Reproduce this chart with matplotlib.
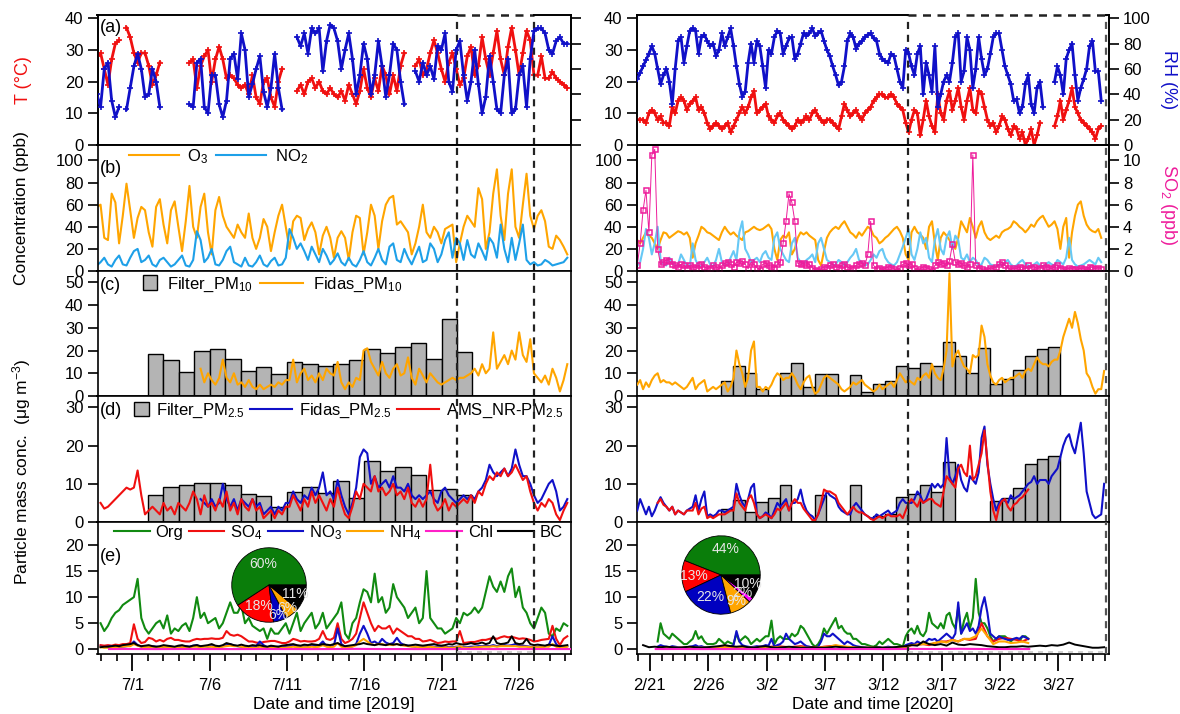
import numpy as np
import pandas as pd
import matplotlib
matplotlib.use("Agg")
import matplotlib.pyplot as plt
import matplotlib.dates as mdates
from matplotlib.patches import Patch, Rectangle
from matplotlib.lines import Line2D
from matplotlib.legend_handler import HandlerPatch

plt.rcParams['font.family'] = ['Liberation Sans', 'DejaVu Sans']
plt.rcParams['mathtext.fontset'] = 'custom'
plt.rcParams['mathtext.rm'] = 'Liberation Sans'
plt.rcParams['mathtext.it'] = 'Liberation Sans:italic'
plt.rcParams['mathtext.bf'] = 'Liberation Sans:bold'
plt.rcParams['font.size'] = 12

nan = np.nan

# ---------------- summer campaign 2019 (sampling every 5 h 45 min) ----------------
summer_start = "2019-06-28 17:00"
summer_step = "345min"

T_2019 = [28, 29, 24, 19, 27, 32, 33, nan, 37, 34, 29, 26, 29, 29, 25, 19, 22, 26,
          nan, nan, nan, nan, nan, nan, nan,
          26, 27, 18, 25, 28, 30, 20, 27, 31, 27, 21, 22, 21, 19, 18, 19, 16, 22, 15, 13,
          20, 21, 15, 12, 20, 24,
          nan, nan, nan,
          17, 19, 16, 20, 21, 18, 20, 17, 16, 18, 16, 15, 17, 14, 19, 16, 13, 17, 24, 18,
          15, 21, 17, 25, 22, 16, 22, 17, 25, 29,
          nan, nan,
          25, 27, 22, 24, 29, 33, 29, 24, 20, 26, 29, 24, 19, 21, 28, 31, 22, 25, 34, 27,
          22, 29, 36, 27, 22, 31, 37, 30, 22, 29, 36, 33, 22, 22, 28, 21, 21, 23, 21, 20,
          19, 18]
RH_2019 = [40, 30, 60, 65, 35, 22, 30, nan, 28, 45, 62, 72, 60, 38, 40, 60, 50, 30,
           nan, nan, nan, nan, nan, nan, nan,
           32, 30, 65, 68, 30, 25, 55, 55, 32, 22, 35, 68, 72, 52, 88, 75, 38, 48, 60, 70,
           42, 30, 45, 72, 45, 28,
           nan, nan, nan,
           85, 78, 88, 72, 92, 88, 92, 58, 82, 95, 92, 82, 60, 75, 88, 68, 40, 55, 80, 68,
           40, 55, 82, 62, 38, 55, 80, 75, 50, 32,
           nan, nan,
           58, 50, 65, 55, 62, 52, 78, 75, 88, 50, 42, 75, 82, 55, 35, 50, 75, 48, 25, 38,
           70, 50, 28, 25, 55, 68, 25, 28, 55, 62, 30, 68, 90, 92, 92, 88, 75, 72, 82, 85,
           80, 80]
O3_2019 = [58, 60, 30, 28, 70, 62, 25, 50, 79, 55, 30, 48, 58, 55, 35, 22, 58, 65, 42, 25,
           55, 63, 40, 18, 45, 77, 40, 30, 58, 70, 35, 15, 55, 67, 50, 40, 35, 30, 42, 35,
           30, 52, 30, 20, 30, 47, 40, 18, 35, 50, 60, 40, 20, 45, 50, 48, 28, 38, 44, 35,
           15, 32, 40, 30, 12, 30, 36, 30, 10, 35, 50, 48, 15, 35, 60, 50, 20, 45, 60, 66,
           68, 42, 45, 40, 35, 15, 25, 40, 60, 35, 30, 40, 35, 25, 38, 40, 42, 8, 25, 40,
           50, 45, 40, 75, 65, 20, 35, 70, 92, 50, 28, 70, 92, 40, 30, 60, 88, 50, 38, 50,
           55, 45, 22, 20, 32, 28, 22, 15]
NO2_2019 = [5, 8, 12, 6, 4, 10, 14, 6, 5, 12, 18, 20, 8, 10, 14, 6, 4, 10, 12, 8,
            4, 6, 10, 14, 5, 4, 10, 36, 28, 8, 12, 20, 6, 5, 10, 18, 22, 8, 6, 4,
            12, 5, 4, 8, 14, 6, 4, 9, 12, 5, 6, 12, 38, 30, 20, 25, 18, 10, 22, 15,
            8, 20, 14, 6, 10, 16, 8, 5, 12, 6, 4, 10, 18, 8, 5, 12, 20, 10, 6, 22,
            25, 10, 8, 20, 12, 6, 14, 22, 8, 10, 25, 20, 8, 15, 28, 35, 12, 30, 25, 10,
            28, 15, 12, 25, 18, 10, 30, 25, 12, 42, 20, 8, 30, 10, 25, 42, 10, 6, 8, 5,
            6, 10, 8, 5, 6, 7, 8, 12]
Fidas_PM10_2019 = [nan] * 28 + [
    12, 6, 10, 7, 5, 8, 16, 8, 6, 10, 5, 6, 4, 7, 4, 3, 5, 3, 4, 5,
    4, 6, 5, 7, 7, 16, 6, 10, 12, 7, 9, 6, 10, 7, 12, 10, 9, 15, 6, 3,
    6, 4, 8, 7, 20, 21, 15, 12, 9, 15, 10, 8, 12, 14, 9, 10, 17, 8, 5, 12,
    9, 6, 10, 8, 6, 5, 6, 7, 8, 7, 8, 8, 9, 10, 12, 9, 14, 10, 12, 28,
    12, 15, 18, 14, 20, 16, 28, 18, 15, 25, 10, 8, 6, 9, 5, 12, 8, 2, 7, 14]
Fidas_PM25_2019 = [nan] * 28 + [
    6, 5, 4, 6, 4, 5, 10, 6, 4, 6, 3, 6, 5, 4, 6, 4, 5, 2, 3, 4,
    2, 4, 3, 5, 5, 8, 6, 5, 7, 6, 9, 7, 9, 13, 7, 8, 6, 11, 7, 4,
    2, 5, 9, 17, 19, 18, 10, 12, 9, 10, 11, 9, 12, 9, 9, 8, 10, 7, 6, 7,
    6, 7, 8, 6, 5, 8, 9, 7, 6, 5, 6, 7, 6, 7, 6, 8, 9, 11, 15, 13,
    12, 13, 14, 12, 14, 19, 15, 12, 12, 10, 7, 5, 6, 8, 10, 11, 8, 3, 4, 6]
AMS_2019 = [nan,
            5, 3.5, 4, 5, 6, 7, 8, 9, 8.5, 9, 13.5, 7, 2, 3, 4, 3, 2, 5, 3, 4,
            2, 5, 4, 3, 5, 8, 6, 2, 7, 4, 5, 3, 6, 4, 8, 3, 5, 2, 6, 4,
            3, 6, 3, 4, 1, 2, 3, 1, 3, 2, 4, 4, 7, 5, 3, 6, 4, 8, 5, 7,
            5, 3, 6, 4, 9, 5, 2, 1, 4, 8, 6, 10, 9, 8, 12, 8, 9, 7, 8, 10,
            7, 8, 6, 9, 5, 4, 6, 4, 6, 15, 5, 3, 4, 6, 3, 5, 4, 5, 6, 5,
            7, 5, 8, 7, 10, 12, 11, 13, 12, 14, 12, 13, 15, 13, 11, 12, 8, 5, 3, 5,
            4, 6, 5, 2, 0.5, 3, 5]
Org_2019 = [nan,
            5, 3.5, 4.5, 6, 7, 7.5, 8.5, 9, 9.5, 10, 13.5, 6, 4, 3, 4, 5, 5.5, 4, 6.5, 3,
            4, 3.5, 4.5, 5, 3.5, 6, 10, 6, 7, 5, 5.5, 6, 4, 5, 7, 9, 7, 7, 8.5, 5,
            6, 4.5, 4, 3.5, 4, 2, 4, 3, 3, 4, 5, 3, 5, 7, 3.5, 5, 6, 7, 4, 5,
            7, 4, 5, 6, 7, 9, 3, 2, 5, 6, 9, 11.5, 11, 9, 14.5, 9, 10, 7, 8, 12.5,
            10, 9, 8, 6, 7, 8, 5, 6, 15, 6, 5, 4, 4, 3, 3.5, 4, 6, 5, 7, 6.5,
            7, 8, 7, 8, 11, 14, 12, 11, 13, 11, 14, 15.5, 10, 12, 8, 7, 5, 4, 6, 8,
            7, 3, 2.5, 4, 3.5, 5, 4.5]
SO4_2019 = [nan,
            0.8, 0.7, 0.8, 0.7, 0.9, 0.8, 1.0, 1.0, 1.2, 4.8, 2.0, 1.2, 1.4, 2.2, 2.0, 1.5, 1.8, 1.5, 2.0, 2.2,
            1.8, 1.8, 1.6, 1.5, 1.5, 1.8, 2.0, 1.9, 2.0, 2.0, 2.1, 2.0, 2.0, 2.2, 3.5, 2.8, 2.6, 2.8, 2.5, 2.0,
            1.5, 1.5, 1.3, 1.2, 1.4, 1.5, 1.6, 1.6, 1.4, 1.2, 1.2, 1.5, 2.0, 1.8, 1.5, 1.6, 1.5, 1.5, 1.6, 2.0,
            3.5, 2.0, 1.8, 2.2, 5.0, 2.0, 1.2, 1.5, 2.0, 3.0, 6.0, 9.0, 7.0, 5.0, 3.5, 4.5, 4.0, 4.0, 4.5, 3.0,
            4.0, 3.5, 3.0, 2.5, 2.5, 2.0, 2.0, 1.5, 1.6, 1.8, 1.5, 1.2, 1.3, 1.5, 1.4, 1.5, 1.5, 3.5, 1.2, 1.3,
            1.4, 1.4, 1.6, 1.8, 1.8, 2.0, 2.2, 2.0, 2.3, 2.5, 2.3, 2.4, 2.2, 2.0, 2.1, 2.0, 1.8, 1.5, 1.6, 1.8,
            1.9, 2.0, 4.5, 2.0, 0.8, 2.0, 2.5]
NO3_2019 = [nan,
            0.5, 0.4, 0.5, 0.6, 0.5, 0.4, 0.5, 0.6, 0.7, 1.5, 0.8, 0.5, 0.4, 0.5, 0.6, 0.5, 0.4, 0.5, 0.6, 0.5,
            0.4, 0.4, 0.5, 0.6, 0.5, 0.7, 0.8, 0.5, 0.6, 0.5, 0.6, 0.5, 0.5, 0.6, 0.8, 1.0, 0.7, 0.6, 0.5, 0.5,
            0.4, 0.5, 0.6, 1.5, 0.8, 0.4, 0.5, 0.4, 0.5, 0.4, 0.5, 0.6, 0.8, 0.6, 0.5, 0.6, 0.5, 0.7, 0.6, 0.8,
            1.5, 0.6, 0.5, 0.7, 4.0, 1.0, 0.5, 0.4, 0.6, 1.0, 3.0, 4.5, 3.0, 1.2, 1.5, 1.0, 2.0, 1.3, 1.0, 1.2,
            2.2, 1.2, 0.8, 0.7, 0.6, 0.5, 0.6, 0.5, 0.4, 0.6, 0.5, 0.4, 0.4, 0.5, 0.4, 0.4, 0.5, 0.5, 0.4, 0.4,
            0.5, 0.5, 0.6, 0.6, 0.7, 0.6, 0.8, 0.6, 0.7, 0.8, 0.7, 0.8, 1.0, 0.6, 0.7, 0.6, 0.5, 0.4, 0.5, 0.5,
            0.6, 0.8, 2.5, 1.0, 0.3, 0.4, 0.6]
NH4_2019 = [nan,
            0.4, 0.3, 0.3, 0.4, 0.4, 0.5, 0.5, 0.6, 0.6, 1.0, 0.7, 0.5, 0.4, 0.4, 0.5, 0.4, 0.4, 0.5, 0.4, 0.4,
            0.4, 0.3, 0.4, 0.4, 0.4, 0.5, 0.5, 0.4, 0.5, 0.5, 0.5, 0.4, 0.4, 0.5, 0.6, 0.7, 0.6, 0.6, 0.5, 0.4,
            0.4, 0.3, 0.3, 0.5, 0.4, 0.3, 0.3, 0.3, 0.3, 0.3, 0.3, 0.4, 0.5, 0.4, 0.4, 0.4, 0.4, 0.5, 0.4, 0.5,
            0.8, 0.5, 0.4, 0.5, 1.2, 0.5, 0.3, 0.4, 0.5, 0.8, 1.5, 2.0, 1.5, 1.0, 0.8, 1.0, 1.0, 0.8, 0.9, 0.8,
            1.0, 0.8, 0.7, 0.6, 0.5, 0.5, 0.4, 0.4, 0.4, 0.5, 0.4, 0.3, 0.3, 0.4, 0.3, 0.3, 0.4, 0.6, 0.3, 0.3,
            0.3, 0.4, 0.4, 0.5, 0.5, 0.5, 0.6, 0.5, 0.6, 0.6, 0.6, 0.6, 0.6, 0.5, 0.5, 0.5, 0.4, 0.4, 0.4, 0.4,
            0.5, 0.5, 1.0, 0.5, 0.2, 0.4, 0.5]
BC_2019 = [nan,
           0.4, 0.5, 0.5, 0.6, 0.7, 0.6, 0.8, 0.9, 1.0, 1.2, 0.8, 0.6, 0.7, 0.8, 0.6, 0.5, 0.6, 0.8, 0.7, 0.6,
           0.5, 0.7, 0.8, 0.6, 0.5, 0.7, 0.8, 0.6, 0.7, 0.8, 1.0, 0.7, 0.6, 0.8, 1.2, 1.0, 0.8, 0.7, 0.9, 0.7,
           0.6, 0.8, 0.7, 0.8, 0.6, 0.5, 0.7, 0.6, 0.5, 0.7, 0.8, 0.9, 1.0, 0.8, 0.7, 0.9, 0.8, 1.0, 0.9, 0.8,
           1.0, 0.9, 0.8, 1.0, 1.2, 0.8, 0.6, 0.7, 0.8, 0.9, 1.0, 1.2, 1.0, 0.9, 0.8, 1.0, 0.9, 0.8, 1.0, 0.9,
           1.0, 0.8, 0.9, 0.7, 0.8, 0.9, 0.8, 0.7, 0.8, 0.9, 1.0, 0.8, 0.7, 0.8, 1.0, 0.9, 1.2, 1.0, 0.9, 1.0,
           1.2, 1.0, 1.1, 1.3, 1.0, 1.2, 2.5, 1.2, 1.0, 1.1, 1.3, 2.5, 1.2, 1.0, 1.1, 2.0, 1.0, 0.8, 0.9, 0.8,
           0.7, 0.9, 0.8, 0.7, 0.6, 0.7, 0.8]
Chl_2019_daily = [0.05, 0.06, 0.05, 0.04, 0.05, 0.06, 0.05, 0.05, 0.04, 0.05, 0.06, 0.05, 0.05, 0.04,
                  0.05, 0.06, 0.08, 0.06, 0.05, 0.05, 0.04, 0.05, 0.05, 0.06, 0.05, 0.04, 0.05, 0.05,
                  0.06, 0.05, 0.05]
Filter_PM10_2019 = [18.6, 16.0, 10.4, 20.0, 20.7, 16.1, 11.0, 12.6, 9.6, 15.0, 14.3, 13.1, 14.3,
                    15.7, 20.7, 18.9, 21.4, 23.3, 16.1, 33.9, 19.3]
Filter_PM25_2019 = [7.0, 9.2, 9.8, 10.1, 10.3, 9.8, 7.3, 6.8, 3.8, 7.9, 9.2, 7.5, 10.8, 6.4,
                    16.0, 13.4, 14.3, 12.3, 8.5, 8.6, 7.0]
filter_start_2019 = "2019-07-02 00:00"
pie_2019 = [60, 18, 6, 6, 0.4, 11]
pie_2019_labels = ["60%", "18%", "6%", "6%", "", "11%"]

# ---------------- winter campaign 2020 (sampling every 6 h) ----------------
winter_start = "2020-02-19 22:00"
winter_step = "6h"

T_2020 = [8, 8, 8, 7, 10, 11, 10, 8, 9, 7, 7, 6, 12, 10, 14, 15, 14, 11, 13, 14,
          15, 11, 12, 10, 7, 5, 6, 7, 6, 5, 6, 7, 4, 6, 8, 10, 12, 10, 12, 15,
          17, 10, 11, 12, 13, 9, 8, 7, 9, 10, 8, 7, 6, 5, 6, 8, 7, 8, 9, 8,
          10, 11, 9, 8, 7, 8, 8, 7, 6, 5, 9, 13, 11, 9, 10, 11, 9, 8, 10, 11,
          12, 14, 15, 16, 16, 15, 15, 16, 15, 13, 12, 11, 7, 4, 8, 11, 10, 3, 8, 14,
          9, 6, 4, 16, 10, 8, 14, 17, 11, 14, 18, 12, 8, 14, 18, 11, 10, 17, 16, 12,
          8, 6, 7, 4, 6, 9, 8, 5, 3, 6, 5, 2, 4, 0, 2, 5, 0, 3, 7, nan,
          nan, nan, nan, 6, 9, 14, 8, 11, 14, 18, 12, 10, 8, 7, 6, 5, 4, 2, 5, 6,
          nan]
RH_2020 = [52, 57, 62, 67, 72, 78, 72, 60, 48, 55, 60, 50, 32, 60, 82, 85, 65, 78, 90, 92,
           90, 72, 85, 87, 82, 78, 80, 70, 75, 88, 78, 85, 92, 78, 62, 48, 38, 42, 65, 80,
           65, 82, 78, 62, 45, 75, 72, 85, 90, 88, 72, 78, 84, 85, 68, 72, 80, 88, 86, 88,
           92, 86, 88, 90, 82, 75, 70, 62, 55, 47, 50, 62, 82, 88, 85, 76, 80, 82, 85, 87,
           88, 84, 82, 72, 68, 66, 65, 72, 70, 60, 50, 45, 75, 72, 62, 55, 72, 78, 40, 65,
           55, 42, 78, 30, 40, 50, 55, 50, 65, 85, 88, 50, 58, 85, 75, 45, 60, 85, 68, 55,
           60, 72, 85, 88, 88, 75, 62, 55, 48, 35, 36, 25, 30, 48, 55, 32, 25, 45, 50, 30,
           nan, nan, nan, 50, 62, 55, 40, 68, 75, 80, 55, 35, 45, 52, 60, 78, 82, 58, 58, 35,
           nan]
O3_2020 = [28, 25, 30, 35, 32, 30, 25, 20, 28, 35, 34, 30, 32, 34, 36, 35, 33, 35, 30, 12,
           25, 32, 40, 38, 35, 34, 32, 30, 28, 35, 40, 36, 33, 35, 32, 30, 28, 35, 36, 38,
           40, 38, 37, 38, 40, 42, 38, 20, 10, 28, 32, 30, 35, 15, 20, 30, 35, 33, 35, 32,
           30, 28, 10, 5, 18, 30, 35, 38, 40, 38, 42, 45, 40, 35, 33, 30, 35, 32, 36, 40,
           38, 32, 30, 25, 27, 30, 32, 35, 38, 40, 36, 30, 15, 10, 35, 40, 35, 33, 30, 20,
           40, 45, 25, 10, 30, 35, 32, 28, 25, 20, 30, 45, 40, 35, 48, 40, 30, 40, 45, 35,
           30, 28, 30, 32, 30, 35, 37, 38, 40, 45, 43, 40, 38, 35, 38, 42, 40, 45, 48, 50,
           45, 40, 42, 45, 38, 20, 40, 48, 12, 35, 50, 60, 63, 50, 42, 38, 36, 35, 38, 30,
           nan]
NO2_2020 = [5, 8, 20, 38, 30, 15, 25, 40, 10, 6, 5, 12, 8, 4, 6, 15, 10, 5, 4, 25,
            10, 5, 4, 8, 12, 6, 4, 10, 20, 8, 5, 6, 12, 18, 10, 35, 45, 20, 15, 8,
            10, 12, 8, 15, 18, 12, 10, 30, 35, 20, 15, 10, 8, 25, 30, 12, 8, 6, 10, 12,
            15, 8, 25, 30, 20, 10, 8, 5, 6, 10, 8, 5, 8, 12, 15, 20, 10, 8, 5, 6,
            10, 15, 12, 18, 20, 12, 8, 6, 5, 8, 15, 22, 30, 38, 15, 10, 20, 35, 25, 30,
            12, 8, 28, 38, 20, 15, 30, 36, 20, 32, 28, 12, 10, 15, 8, 12, 10, 5, 6, 12,
            10, 6, 5, 4, 6, 5, 8, 10, 6, 4, 5, 8, 10, 6, 5, 4, 6, 8, 5, 4,
            6, 8, 6, 5, 10, 8, 6, 12, 30, 10, 6, 4, 5, 6, 8, 10, 8, 6, 12, 8,
            nan]
SO2_2020 = [0.5, 2.5, 5.5, 7.3, 3.5, 10.5, 11.0, 2.0, 0.6, 0.8, 1.0, 0.9, 0.6, 0.5, 0.4, 0.6, 0.5, 0.3, 0.5, 0.4,
            0.3, 0.5, 0.6, 0.4, 0.2, 0.3, 0.5, 0.4, 0.2, 0.5, 0.7, 0.8, 0.6, 0.4, 0.8, 0.7, 0.9, 0.6, 0.2, 0.8,
            0.6, 0.3, 0.1, 0.6, 0.7, 0.5, 0.4, 0.3, 0.6, 0.8, 2.5, 4.5, 7.0, 6.2, 4.5, 0.7, 0.6, 0.7, 0.5, 0.6,
            0.3, 0.1, 0.0, 0.2, 0.4, 0.3, 0.5, 0.6, 0.4, 0.3, 0.5, 0.6, 0.4, 0.2, 0.3, 0.5, 0.6, 0.7, 0.5, 1.5,
            4.5, 0.5, 0.2, 0.3, 0.1, 0.2, 0.4, 0.3, 0.2, 0.0, 0.3, 0.6, 0.7, 0.5, 0.6, 0.3, 0.0, 0.2, 0.4, 0.3,
            0.2, 0.0, 0.5, 0.8, 0.6, 0.7, 0.5, 0.9, 2.4, 0.8, 0.6, 0.7, 0.5, 0.4, 0.6, 10.5, 0.5, 0.3, 0.2, 0.0,
            0.1, 0.3, 0.2, 0.4, 0.6, 0.8, 0.5, 0.3, 0.1, 0.3, 0.2, 0.4, 0.3, 0.2, 0.5, 0.3, 0.4, 0.2, 0.3, 0.5,
            0.4, 0.3, 0.2, 0.4, 0.5, 0.3, 0.2, 0.1, 0.3, 0.2, 0.2, 0.1, 0.3, 0.2, 0.1, 0.4, 0.3, 0.2, 0.3, 0.2,
            nan]
Fidas_PM10_2020 = [5, 7, 3, 6, 4, 7, 9, 10, 6, 7, 6, 6, 5, 6, 5, 4, 3, 4, 6, 8,
                   3, 5, 6, 7, 2, 3, 4, 3, 4, 5, 6, 2, 4, 8, 20, 14, 10, 4, 8, 20,
                   24, 4, 4, 2, 4, 3, 5, 8, 10, 9, 7, 8, 8, 10, 8, 5, 3, 6, 8, 9,
                   4, 1, 2, 5, 8, 9, 8, 7, 6, 5, 3, 2, 3, 4, 6, 5, 6, 7, 5, 4,
                   3, 2, 3, 5, 3, 4, 5, 6, 4, 7, 10, 8, 6, 7, 6, 5, 8, 7, 9, 10,
                   8, 14, 10, 8, 7, 12, 20, 54, 13, 18, 20, 16, 13, 12, 10, 18, 17, 18, 31, 26,
                   14, 9, 6, 5, 7, 8, 6, 7, 8, 8, 9, 10, 8, 11, 12, 11, 14, 17, 15, 14,
                   14, 13, 15, 16, 16, 20, 26, 30, 34, 30, 37, 32, 25, 20, 10, 8, 4, 1, 3, 3,
                   11]
Fidas_PM25_2020 = [3, 6, 4, 2, 4, 1.5, 3, 5, 6.5, 5, 4, 3, 4, 2, 3, 2.5, 2, 3, 3.5, 4,
                   7, 3, 6, 8, 1.5, 2, 1.5, 2, 3, 3, 2.5, 3, 3.5, 4, 10, 7, 5, 4, 6, 9,
                   10, 2, 1, 1.5, 2.5, 2, 1, 3, 5, 4, 5, 6, 3, 5, 5, 6, 8.5, 5, 3, 2,
                   1.5, 0.5, 2, 4, 6, 8, 7, 6.5, 6, 4, 3, 2.5, 2, 2, 4, 5, 4, 3, 2, 1.5,
                   1, 1, 2, 1.5, 2, 2.5, 3, 2, 2.5, 3, 5, 6, 5, 5, 5, 6, 8, 7, 5, 6,
                   8, 10, 9, 10, 9, 10, 22, 12, 10, 12, 15, 11, 9, 8, 12, 11, 10, 13, 22, 25,
                   15, 10, 6, 3, 5, 6, 5.5, 5, 7, 6, 6.5, 7, 8, 9, 10, 10.5, 12, 10, 11, 11,
                   11, 10, 12, 13, 14, 17, 20, 22, 23, 20, 18, 22, 26, 18, 8, 5, 2, 1, 1.5, 2,
                   10]
AMS_2020 = [nan] * 7 + [
    5, 6, 4.5, 4, 3, 4, 2, 3, 2.5, 2, 3, 3, 3, 5, 2, 3.5, 4, 1, 1.5, 1,
    1.5, 2, 2, 2, 2.5, 3, 3, 7.5, 5, 4, 3, 6, 7, 5, 2, 1, 1.5, 2, 1.5, 1,
    2, 3.5, 3, 4, 5, 3, 5, 6, 5, 5, 3.5, 2.5, 1.5, 0.5, 0.5, 2, 5, 8.5, 8, 8,
    7.5, 7, 5, 4, 3, 2, 3, 4, 3, 2.5, 2.5, 2, 1.5, 0.8, 0.5, 1, 1.5, 1, 1.5, 2,
    1.5, 1.5, 1.5, 2, 1, 3, 5, 6, 5, 4, 6, 5, 5.5, 6, 6, 5, 4.5, 4, 8, 12,
    11, 10, 9, 14, 15, 13, 12, 20, 11, 12, 15, 18, 24, 16, 8, 3, 0.5, 4, 5.5, 6,
    4, 3, 4.5, 5, 6, 6.5, 7.5, 8.5] + [nan] * 26
Org_2020 = [nan] * 7 + [
    1.5, 5, 3, 2.5, 2, 3, 2.5, 2, 1.5, 1, 1, 1.5, 2, 3.5, 2, 2.5, 1.5, 1, 1, 1,
    1.2, 2, 1.5, 1, 1.5, 1.2, 1, 3, 1.5, 2, 2.5, 2, 1, 1.5, 2, 1.5, 2, 2.5, 2.5, 5.5,
    1, 2, 2.5, 2, 2, 2, 3, 2.5, 3, 4.5, 4, 3, 2, 1, 0.5, 1, 2, 4, 3, 4,
    5, 6, 4, 4.5, 3.5, 3, 3, 2, 2, 1.5, 1, 1, 0.8, 0.6, 0.5, 0.8, 1.5, 1, 1.5, 2,
    1.5, 1, 1, 0.8, 0.5, 2.5, 3.5, 4, 3, 4.5, 3, 2.5, 3.5, 7, 5, 4.5, 4, 5, 4, 6.5,
    7, 5, 4, 8, 3, 5.5, 7, 4, 6, 13.5, 7, 5, 5, 4, 2.5, 1.5, 2, 2.5, 2.5, 2.5,
    2, 1.5, 2, 2, 1.5, 2.5, 2.5, 2] + [nan] * 26
NO3_2020 = [nan] * 7 + [
    0.5, 0.8, 0.6, 0.5, 0.4, 0.6, 0.5, 0.4, 0.3, 0.3, 0.4, 0.5, 0.6, 0.8, 0.5, 0.6, 0.4, 0.3, 0.3, 0.3,
    0.4, 0.5, 0.4, 0.3, 0.4, 0.5, 0.8, 3.5, 1.5, 0.8, 0.6, 0.5, 0.4, 0.5, 0.6, 0.5, 0.6, 0.8, 0.7, 2.0,
    0.5, 0.8, 1.0, 1.5, 3.0, 2.0, 1.5, 1.0, 1.2, 1.5, 1.0, 0.6, 0.5, 0.3, 0.2, 0.5, 1.5, 3.0, 2.5, 2.5,
    3.0, 2.5, 2.0, 1.5, 1.0, 1.5, 1.2, 0.8, 0.6, 0.5, 0.4, 0.4, 0.3, 0.3, 0.2, 0.3, 0.4, 0.3, 0.4, 0.5,
    0.4, 0.3, 0.3, 0.3, 0.3, 0.8, 1.0, 1.2, 1.0, 1.5, 1.2, 1.0, 1.5, 2.0, 1.8, 2.0, 1.5, 2.0, 2.5, 3.0,
    2.5, 2.0, 3.0, 9.0, 3.0, 4.0, 5.0, 3.5, 4.0, 3.0, 4.5, 8.0, 10.0, 7.0, 3.0, 2.5, 2.0, 2.5, 2.2, 2.0,
    1.8, 1.8, 2.0, 2.2, 2.0, 2.5, 2.3, 2.0] + [nan] * 26

# these three are kept at 12-hour resolution
half_day_start = "2020-02-19 22:00"
SO4_2020 = [nan] * 4 + [
    0.5, 0.4, 0.4, 0.3, 0.3, 0.4, 0.3, 0.3, 0.3, 0.3, 0.4, 0.5, 0.4, 0.3, 0.4, 0.3,
    0.4, 0.5, 0.4, 0.5, 0.6, 0.5, 0.4, 0.5, 0.6, 0.5, 0.4, 0.3, 0.5, 0.6, 0.7, 0.5,
    0.4, 0.3, 0.2, 0.3, 0.3, 0.2, 0.2, 0.3, 0.2, 0.3, 0.4, 0.8, 0.9, 1.0, 0.8, 1.2,
    1.5, 1.5, 1.8, 1.5, 2.0, 1.8, 2.0, 5.0, 2.5, 1.5, 2.0, 2.2, 2.0, 1.8, 1.5, 2.0] + [nan] * 13
NH4_2020 = [nan] * 4 + [
    0.4, 0.3, 0.3, 0.3, 0.3, 0.3, 0.3, 0.3, 0.3, 0.3, 0.3, 0.4, 0.3, 0.3, 0.3, 0.3,
    0.3, 0.3, 0.3, 0.4, 0.4, 0.3, 0.3, 0.3, 0.4, 0.3, 0.3, 0.3, 0.4, 0.5, 0.8, 0.6,
    0.5, 0.4, 0.3, 0.3, 0.3, 0.3, 0.3, 0.3, 0.3, 0.3, 0.5, 0.8, 0.9, 1.0, 1.0, 1.2,
    1.5, 1.3, 1.8, 1.5, 2.0, 2.0, 2.5, 4.0, 2.5, 1.0, 1.5, 1.5, 1.2, 1.3, 1.5, 1.2] + [nan] * 13
BC_2020 = [nan,
           0.8, 0.4, 0.5, 0.4, 0.5, 0.4, 0.3, 0.4, 0.5, 0.4, 0.3, 0.4, 0.5, 0.6, 0.8, 0.6, 0.5, 0.6, 0.4, 0.3,
           0.5, 0.6, 0.4, 0.3, 0.4, 0.5, 0.4, 0.3, 0.3, 0.4, 0.3, 0.3, 0.4, 0.5, 0.4, 0.3, 0.3, 0.4, 0.3, 0.3,
           0.4, 0.3, 0.3, 0.4, 0.5, 0.6, 0.8, 0.7, 1.5, 1.0, 0.8, 1.0, 0.7, 1.3, 0.9, 0.8, 1.0, 0.9, 0.8, 0.6,
           0.5, 0.4, 0.4, 0.5, 0.5, 0.6, 0.5, 0.6, 0.7, 0.6, 0.8, 0.7, 0.9, 1.3, 0.9, 0.7, 0.5, 0.3, 0.3, 0.4]
Chl_2020_daily = [0.05, 0.05, 0.06, 0.05, 0.04, 0.05, 0.05, 0.06, 0.05, 0.05, 0.04, 0.05, 0.05, 0.06,
                  0.05, 0.05, 0.04, 0.05, 0.06, 0.05, 0.05, 0.06, 0.08, 0.07, 0.06, 0.08, 0.10, 0.08,
                  0.06, 0.05, 0.05, 0.05, 0.05]
Filter_PM10_2020 = [6.8, 13, 10, 2.9, nan, 10, 14.5, 4, 9.6, 9.6, nan, 9.3, 1.7, 5.4, 6.8, 13,
                    12.2, 14.5, 13.3, 23.8, 17.7, 10, 21, 5.4, 7.5, 11.6, 17.4, 20.6, 21.7]
Filter_PM25_2020 = [3.5, 5.8, 2.5, 5.2, 6.3, 9.7, nan, nan, 7.2, nan, nan, 9.8, nan, 1.6, 2.1,
                    6.6, 7.3, 9.8, 7.8, 15.7, nan, nan, nan, 5.5, 6.3, 9.0, 15.3, 16.5, 17.2]
filter_start_2020 = "2020-02-27 03:00"
pie_2020 = [44, 13, 22, 9, 2, 10]
pie_2020_labels = ["44%", "13%", "22%", "9%", "2%", "10%"]

# highlighted periods and axis ranges
box_2019 = ("2019-07-22 00:00", "2019-07-27 00:00")
box_2020 = ("2020-03-14 03:00", "2020-03-31 02:00")
xlim_2019 = ("2019-06-28 18:00", "2019-07-29 09:00")
xlim_2020 = ("2020-02-19 20:30", "2020-03-31 08:00")
ticks_2019 = ["2019-07-01", "2019-07-06", "2019-07-11", "2019-07-16", "2019-07-21", "2019-07-26"]
ticks_2020 = ["2020-02-21", "2020-02-26", "2020-03-02", "2020-03-07", "2020-03-12",
              "2020-03-17", "2020-03-22", "2020-03-27"]

# ---------------- styling ----------------
C_RED = "#f01010"
C_BLUE = "#1010c8"
C_ORANGE = "#ffa500"
C_NO2_L = "#1ea0e8"
C_NO2_R = "#66c8f5"
C_SO2 = "#ee1c9b"
C_GREEN = "#118a11"
C_CHL = "#ff20c8"
C_GREY = "#b4b4b4"
PIE_COLORS = ["#0a7d0a", "#ff0000", "#0000c0", "#ffa500", "#ff00ff", "#000000"]


class SquareHandler(HandlerPatch):
    """Legend key drawn as a square at the right end of the key area."""
    def create_artists(self, legend, orig_handle, xdescent, ydescent, width, height,
                       fontsize, trans):
        s = height * 1.25
        p = Rectangle((-xdescent + width - s, -ydescent + (height - s) / 2), s, s,
                      facecolor=orig_handle.get_facecolor(), edgecolor='k', lw=1.0,
                      transform=trans)
        return [p]


def times(start, n, freq):
    return mdates.date2num(pd.date_range(start, periods=n, freq=freq).to_pydatetime())


def dnum(s):
    return mdates.date2num(pd.Timestamp(s).to_pydatetime())


W, H = 1180, 714
fig = plt.figure(figsize=(W / 100, H / 100), dpi=100)
rows = [(15, 145), (145, 271), (271, 396), (396, 522), (522, 654)]
cols = [(97.5, 571), (636.5, 1109)]


def rect(x0, x1, yt, yb):
    return [x0 / W, 1 - yb / H, (x1 - x0) / W, (yb - yt) / H]


def style(ax):
    for s in ax.spines.values():
        s.set_linewidth(1.2)
    ax.tick_params(axis='y', direction='out', length=7, width=1.2, labelsize=12, pad=3)
    ax.tick_params(axis='x', which='both', bottom=False, top=False, labelbottom=False)


axes = [[fig.add_axes(rect(c[0], c[1], r[0], r[1])) for r in rows] for c in cols]

for ci, (year_axes, xl, box) in enumerate(zip(axes, [xlim_2019, xlim_2020], [box_2019, box_2020])):
    for ax in year_axes:
        style(ax)
        ax.set_xlim(dnum(xl[0]), dnum(xl[1]))
        for b in box:
            ax.axvline(dnum(b), color="#222222" if b != box_2020[1] else "#555555",
                       ls=(0, (3.2, 2.6)), lw=1.6, zorder=6)
    # top border of panel (a): solid outside the highlighted period, dashed inside
    top = year_axes[0]
    top.spines['top'].set_visible(False)
    x0, x1 = top.get_xlim()
    b0, b1 = dnum(box[0]), dnum(box[1])
    tr = top.get_xaxis_transform()
    top.plot([x0, b0], [1, 1], color='k', lw=1.4, transform=tr, clip_on=False, zorder=7)
    top.plot([b0, b1], [1, 1], color='#222222', lw=1.8, ls=(0, (3.2, 2.6)), transform=tr,
             clip_on=False, zorder=7)
    top.plot([b1, x1], [1, 1], color='k', lw=1.4, transform=tr, clip_on=False, zorder=7)
    bot = year_axes[4]
    bot.plot([b0, b1], [0.012, 0.012], color='#c8c8c8', lw=1.2, ls=(0, (3, 3)),
             transform=bot.get_xaxis_transform(), zorder=6)

tL = times(summer_start, len(T_2019), summer_step)
tR = times(winter_start, len(T_2020), winter_step)
tR12 = times(half_day_start, len(SO4_2020), "12h")
tChlL = times("2019-06-29 12:00", len(Chl_2019_daily), "1D")
tChlR = times("2020-02-21 12:00", len(Chl_2020_daily), "1D")

# ---------- panel (a) ----------
for ax, t, T, RH, labels in [(axes[0][0], tL, T_2019, RH_2019, False),
                             (axes[1][0], tR, T_2020, RH_2020, True)]:
    ax.plot(t, T, color=C_RED, lw=2.0, marker='+', ms=5, mew=1.2, zorder=3)
    ax.set_ylim(0, 41)
    ax.set_yticks([0, 10, 20, 30, 40])
    axr = ax.twinx()
    axr.plot(t, RH, color=C_BLUE, lw=2.0, marker='+', ms=5, mew=1.2, zorder=3)
    axr.set_ylim(0, 102.5)
    axr.set_yticks([0, 20, 40, 60, 80, 100])
    axr.tick_params(axis='y', direction='out', length=7, width=1.2, labelsize=12,
                    labelright=labels, pad=3)
    axr.tick_params(axis='x', which='both', bottom=False, top=False, labelbottom=False)
    axr.spines['top'].set_visible(False)
    for s in axr.spines.values():
        s.set_linewidth(1.2)
axes[0][0].text(0.005, 0.97, "(a)", transform=axes[0][0].transAxes, fontsize=13, va='top')

# ---------- panel (b) ----------
ax = axes[0][1]
ax.plot(tL, O3_2019, color=C_ORANGE, lw=1.5)
ax.plot(tL, NO2_2019, color=C_NO2_L, lw=1.5)
ax.set_ylim(0, 114)
ax.set_yticks(range(0, 101, 20))
ax.text(0.005, 0.88, "(b)", transform=ax.transAxes, fontsize=13, va='top')
ax.legend([Line2D([], [], color=C_ORANGE, lw=1.5), Line2D([], [], color=C_NO2_L, lw=1.5)],
          ["O$_3$", "NO$_2$"], loc='upper left', bbox_to_anchor=(0.066, 0.985), ncol=2,
          frameon=False, borderpad=0, borderaxespad=0, handlelength=3.0, handletextpad=0.5,
          columnspacing=0.5, fontsize=12)

ax = axes[1][1]
ax.plot(tR, O3_2020, color=C_ORANGE, lw=1.5)
ax.plot(tR, NO2_2020, color=C_NO2_R, lw=1.5)
ax.set_ylim(0, 114)
ax.set_yticks(range(0, 101, 20))
axr = ax.twinx()
axr.plot(tR, SO2_2020, color=C_SO2, lw=0.7, marker='s', ms=3.6, mfc='none', mew=1.1)
axr.set_ylim(0, 11.4)
axr.set_yticks(range(0, 11, 2))
axr.tick_params(axis='y', direction='out', length=7, width=1.2, labelsize=12, pad=3)
axr.tick_params(axis='x', which='both', bottom=False, top=False, labelbottom=False)
for s in axr.spines.values():
    s.set_linewidth(1.2)

# ---------- panel (c) ----------
for ax, t, fid, filt, fstart in [(axes[0][2], tL, Fidas_PM10_2019, Filter_PM10_2019, filter_start_2019),
                                 (axes[1][2], tR, Fidas_PM10_2020, Filter_PM10_2020, filter_start_2020)]:
    tf = times(fstart, len(filt), "1D")
    ax.bar(tf, filt, width=1.0, align='edge', color=C_GREY, edgecolor='k', lw=1.0, zorder=2)
    ax.plot(t, fid, color=C_ORANGE, lw=1.5, zorder=3)
    ax.set_ylim(0, 55)
    ax.set_yticks(range(0, 51, 10))
ax = axes[0][2]
ax.text(0.005, 0.95, "(c)", transform=ax.transAxes, fontsize=13, va='top')
sq = Patch(facecolor=C_GREY, edgecolor='k')
ax.legend([sq, Line2D([], [], color=C_ORANGE, lw=1.5)],
          ["Filter_PM$_{10}$", "Fidas_PM$_{10}$"], loc='upper left', bbox_to_anchor=(0.035, 0.965),
          ncol=2, frameon=False, borderpad=0, borderaxespad=0, handlelength=2.6,
          handletextpad=0.6, columnspacing=0.4, fontsize=12, handler_map={sq: SquareHandler()})

# ---------- panel (d) ----------
for ax, t, fid, ams, filt, fstart in [
        (axes[0][3], tL, Fidas_PM25_2019, AMS_2019, Filter_PM25_2019, filter_start_2019),
        (axes[1][3], tR, Fidas_PM25_2020, AMS_2020, Filter_PM25_2020, filter_start_2020)]:
    tf = times(fstart, len(filt), "1D")
    ax.bar(tf, filt, width=1.0, align='edge', color=C_GREY, edgecolor='k', lw=1.0, zorder=2)
    ax.plot(t, fid, color=C_BLUE, lw=1.5, zorder=3)
    ax.plot(t, ams, color=C_RED, lw=1.5, zorder=4)
    ax.set_ylim(0, 33)
    ax.set_yticks([0, 10, 20, 30])
ax = axes[0][3]
ax.text(0.005, 0.95, "(d)", transform=ax.transAxes, fontsize=13, va='top')
sq2 = Patch(facecolor=C_GREY, edgecolor='k')
ax.legend([sq2, Line2D([], [], color=C_BLUE, lw=1.5), Line2D([], [], color=C_RED, lw=1.5)],
          ["Filter_PM$_{2.5}$", "Fidas_PM$_{2.5}$", "AMS_NR-PM$_{2.5}$"], loc='upper left',
          bbox_to_anchor=(0.02, 0.955), ncol=3, frameon=False, borderpad=0, borderaxespad=0,
          handlelength=2.5, handletextpad=0.45, columnspacing=0.3, fontsize=12,
          handler_map={sq2: SquareHandler()})

# ---------- panel (e) ----------
for ax, t, t12, tc, org, so4, no3, nh4, bc, chl, yr in [
        (axes[0][4], tL, None, tChlL, Org_2019, SO4_2019, NO3_2019, NH4_2019, BC_2019, Chl_2019_daily, 2019),
        (axes[1][4], tR, tR12, tChlR, Org_2020, SO4_2020, NO3_2020, NH4_2020, BC_2020, Chl_2020_daily, 2020)]:
    tt = t if t12 is None else t12
    ax.plot(t, org, color=C_GREEN, lw=1.5, zorder=3)
    ax.plot(tt, so4, color=C_RED, lw=1.5, zorder=3)
    ax.plot(t, no3, color=C_BLUE, lw=1.5, zorder=3)
    ax.plot(tt, nh4, color=C_ORANGE, lw=1.5, zorder=3)
    ax.plot(tt, bc, color='k', lw=1.4, zorder=4)
    ax.plot(tc, chl, color=C_CHL, lw=1.5, zorder=4)
    ax.set_ylim(-0.9, 24.4)
    ax.set_yticks([0, 5, 10, 15, 20])
    ticks = ticks_2019 if yr == 2019 else ticks_2020
    tpos = [dnum(s) for s in ticks]
    ax.set_xticks(tpos)
    ax.set_xticklabels([f"{pd.Timestamp(s).month}/{pd.Timestamp(s).day}" for s in ticks])
    ax.xaxis.set_minor_locator(mdates.DayLocator())
    ax.tick_params(axis='x', which='major', bottom=True, labelbottom=True, direction='out',
                   length=12, width=1.3, labelsize=12, pad=5)
    ax.tick_params(axis='x', which='minor', bottom=True, direction='out', length=5, width=1.2)

ax = axes[0][4]
ax.text(0.005, 0.80, "(e)", transform=ax.transAxes, fontsize=13, va='top')
names = ["Org", "SO$_4$", "NO$_3$", "NH$_4$", "Chl", "BC"]
ax.legend([Line2D([], [], color=c, lw=1.5) for c in [C_GREEN, C_RED, C_BLUE, C_ORANGE, C_CHL, 'k']],
          names, loc='upper left', bbox_to_anchor=(0.035, 0.99), ncol=6, frameon=False,
          borderpad=0, borderaxespad=0, handlelength=2.15, handletextpad=0.35,
          columnspacing=0.3, fontsize=12)

fig.text(334 / W, 1 - 704 / H, "Date and time [2019]", ha='center', va='center', fontsize=12.5)
fig.text(873 / W, 1 - 704 / H, "Date and time [2020]", ha='center', va='center', fontsize=12.5)


# ---------- pies ----------
def draw_pie(cx, cy, r, fracs, labels, radii):
    pax = fig.add_axes([(cx - r) / W, 1 - (cy + r) / H, 2 * r / W, 2 * r / H])
    pax.pie(fracs, colors=PIE_COLORS, startangle=0, counterclock=True,
            wedgeprops=dict(edgecolor='k', linewidth=0.6))
    total = float(sum(fracs))
    a0 = 0.0
    for f, lab, rr in zip(fracs, labels, radii):
        a1 = a0 + 360.0 * f / total
        mid = np.deg2rad(0.5 * (a0 + a1))
        if lab:
            pax.text(rr * np.cos(mid), rr * np.sin(mid), lab, ha='center', va='center',
                     color='#e6e6e6', fontsize=10)
        a0 = a1
    pax.set_xlim(-1.02, 1.02)
    pax.set_ylim(-1.02, 1.02)
    pax.set_aspect('equal')
    pax.axis('off')


draw_pie(269, 585, 38, pie_2019, pie_2019_labels, [0.58, 0.62, 0.84, 0.8, 0.7, 0.74])
draw_pie(721, 575, 40, pie_2020, pie_2020_labels, [0.68, 0.68, 0.62, 0.76, 0.72, 0.72])

# ---------- axis titles ----------
fig.text(24 / W, 1 - 80 / H, "T (°C)", color=C_RED, rotation=90, ha='center', va='center', fontsize=13)
fig.text(22 / W, 1 - 208 / H, "Concentration (ppb)", rotation=90, ha='center', va='center', fontsize=12.5)
fig.text(22 / W, 1 - 472 / H, "Particle mass conc.  (μg m$^{-3}$)", rotation=90, ha='center',
         va='center', fontsize=12.5)
fig.text(1168 / W, 1 - 80 / H, "RH (%)", color=C_BLUE, rotation=270, ha='center', va='center', fontsize=13)
fig.text(1168 / W, 1 - 205 / H, "SO$_2$ (ppb)", color=C_SO2, rotation=270, ha='center', va='center',
         fontsize=13)

fig.savefig("out.png", dpi=100)
